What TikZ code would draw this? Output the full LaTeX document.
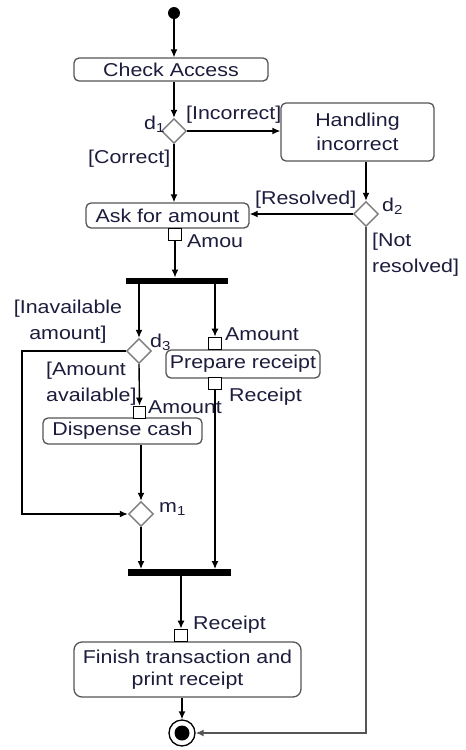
\documentclass[tikz,border=0pt]{standalone}
\usepackage{fontspec}
\setmainfont{Liberation Sans}[FakeStretch=1.15]
\usetikzlibrary{arrows.meta,shapes.geometric}
\definecolor{txtcol}{RGB}{28,28,60}
\definecolor{boxcol}{RGB}{85,85,85}
\definecolor{diacol}{RGB}{125,125,125}

\begin{document}
\begin{tikzpicture}[x=1pt,y=-1pt,
	every node/.style={font=\fontsize{18.6}{26}\selectfont, text=txtcol},
	flow/.style={line width=1.4pt, -{Latex[length=8pt,width=7pt]}},
	action/.style={draw=boxcol, line width=1.3pt, rounded corners=5pt, fill=white, inner sep=0pt, align=center},
	choice/.style={diamond, draw=diacol, line width=1.4pt, fill=white, minimum width=25pt, minimum height=25pt, inner sep=0pt},
	pin/.style={draw, line width=1.2pt, fill=white, minimum size=12.5pt, inner sep=0pt},
	bar/.style={fill=black, minimum height=6.5pt, inner sep=0pt},
	lab/.style={inner sep=0pt}]
		%%%%% START %%%%%
		\useasboundingbox (0,0) rectangle (466,750);
		
		\node[circle, fill=black, minimum size=12pt, inner sep=0pt] (start) at (174,13) {};
		\node[action, minimum width=194pt, minimum height=23pt] (check) at (171,69.5) {Check Access};
		\node[choice] (d1) at (174,131) {};
		\node[lab, anchor=base west] (d1lab) at (144,129.5) {d\textsubscript{1}};
		\node[lab, anchor=base west] (incorrect) at (186,119.5) {[Incorrect]};
		\node[lab, anchor=base west] (correct) at (88,163.5) {[Correct]};
		
		\node[action, minimum width=153pt, minimum height=58pt, font=\fontsize{18.6}{24}\selectfont] (handle) at (357.5,132) {Handling\\incorrect};
		\node[choice] (d2) at (366,214) {};
		\node[lab, anchor=base west] (d2lab) at (382,211.5) {d\textsubscript{2}};
		\node[lab, anchor=base west] (resolved) at (255,204.5) {[Resolved]};
		\node[lab, anchor=west, align=left] (notres) at (372,255) {[Not\\resolved]};
		
		\node[action, minimum width=163pt, minimum height=25pt] (ask) at (167.5,215.5) {Ask for amount};
		\node[pin] (pinA) at (175,234.5) {};
		\node[lab, anchor=base west] (amou) at (187,247.5) {Amou};
		\node[bar, minimum width=102pt] (fork) at (177,281) {};
		
		\node[lab, align=center] (inaval) at (68,322) {[Inavailable\\amount]};
		\node[choice] (d3) at (139,351) {};
		\node[lab, anchor=base west] (d3lab) at (150,347.5) {d\textsubscript{3}};
		\node[lab, anchor=west, align=left] (aval) at (46,384) {[Amount\\available]};
		\coordinate (loopc) at (22,351);
		
		\node[action, minimum width=154pt, minimum height=28pt] (prep) at (243,364) {Prepare receipt};
		\node[pin] (pinC) at (215,343.5) {};
		\node[pin] (pinD) at (215,383.5) {};
		\node[lab, anchor=base west] (amt2) at (225,340.5) {Amount};
		\node[lab, anchor=base west] (rec1) at (229,401.5) {Receipt};
		
		\node[action, minimum width=159pt, minimum height=26pt] (dispense) at (122.5,431) {Dispense cash};
		\node[pin] (pinB) at (139.5,412.5) {};
		\node[lab, anchor=base west] (amt1) at (148,413.5) {Amount};
		
		\node[choice] (m1) at (141,514) {};
		\node[lab, anchor=base west] (m1lab) at (159,512.5) {m\textsubscript{1}};
		\node[bar, minimum width=103pt] (join) at (179.5,572.5) {};
		
		\node[action, minimum width=227pt, minimum height=55pt, rounded corners=8pt, font=\fontsize{18.6}{22}\selectfont] (finish) at (187.5,669.5) {Finish transaction and\\print receipt};
		\node[pin] (pinE) at (181,635.5) {};
		\node[lab, anchor=base west] (rec2) at (193,629.5) {Receipt};
		
		\node[circle, draw, line width=1.3pt, fill=white, minimum size=26pt, inner sep=0pt] (final) at (182,733) {};
		\node[circle, fill=black, minimum size=15pt, inner sep=0pt] (finalin) at (182,733) {};
		
		% connectors
		\draw[flow] (start) -- (start |- check.north);
		\draw[flow] (check.south -| d1) -- (d1.north);
		\draw[flow] (d1.east) -- (d1.east -| handle.west);
		\draw[flow] (d1.south) -- (d1.south |- ask.north);
		\draw[flow] (handle.south -| d2) -- (d2.north);
		\draw[flow] (d2.west) -- (d2.west -| ask.east);
		\draw[flow] (pinA.south) -- (pinA.south |- fork.north);
		\draw[flow] (fork.south -| d3) -- (d3.north);
		\draw[flow] (fork.south -| pinC) -- (pinC.north);
		\draw[flow] (d3.south) -- (pinB.north);
		\draw[flow] (d3.west) -- (loopc) |- (m1.west);
		\draw[flow] (dispense.south -| m1) -- (m1.north);
		\draw[flow] (m1.south) -- (m1.south |- join.north);
		\draw[flow] (pinD.south) -- (pinD.south |- join.north);
		\draw[flow] (join.south -| pinE) -- (pinE.north);
		\draw[flow] (finish.south -| final) -- (final.north);
		\draw[flow, draw=boxcol] (d2.south) |- (final.east);
		
		%%%%% END %%%%%
\end{tikzpicture}
\end{document}
